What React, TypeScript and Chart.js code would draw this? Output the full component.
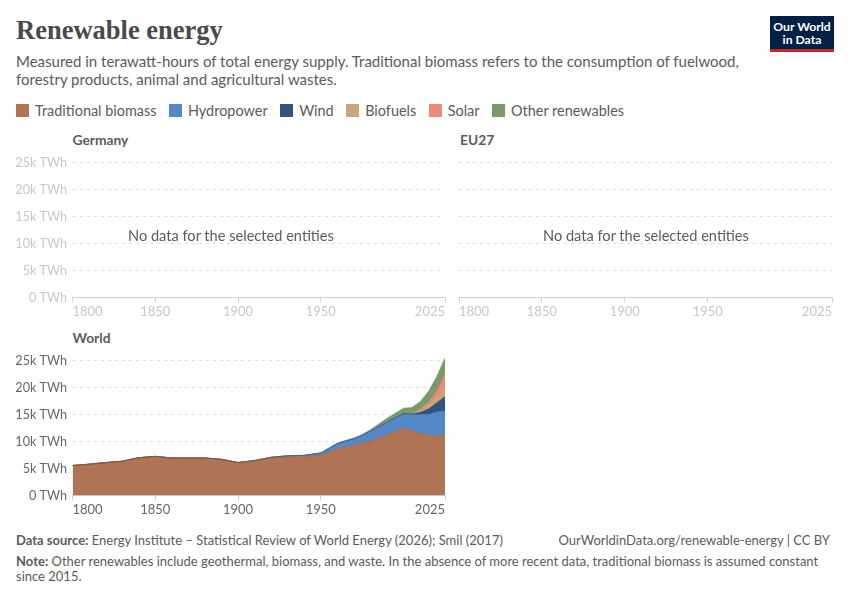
import React, { useEffect, useRef } from 'react';
import Chart from 'chart.js/auto';

// === Data ===
const YEARS = [1800, 1810, 1820, 1830, 1840, 1850, 1860, 1870, 1880, 1890, 1900, 1910, 1920, 1930, 1940, 1950, 1955, 1960, 1965, 1970, 1975, 1980, 1985, 1990, 1995, 2000, 2005, 2010, 2015, 2020, 2025];
const TRADITIONAL = [5556, 5800, 6100, 6350, 7000, 7250, 6950, 6950, 6950, 6700, 6100, 6450, 7000, 7200, 7200, 7530, 8050, 8700, 9000, 9350, 9750, 10080, 10600, 11300, 11900, 12470, 12000, 11600, 11100, 11100, 11100];
const HYDRO = [0, 0, 0, 0, 0, 0, 0, 0, 0, 0, 10, 30, 80, 150, 220, 330, 700, 900, 1080, 1150, 1370, 1850, 2150, 2300, 2470, 2640, 3000, 3400, 3900, 4350, 4550];
const WIND = [0, 0, 0, 0, 0, 0, 0, 0, 0, 0, 0, 0, 0, 0, 0, 0, 0, 0, 0, 0, 0, 0, 2, 8, 15, 30, 100, 350, 1000, 1700, 2650];
const BIOFUELS = [0, 0, 0, 0, 0, 0, 0, 0, 0, 0, 0, 0, 0, 0, 0, 0, 0, 0, 0, 0, 0, 10, 20, 30, 30, 30, 100, 600, 900, 1100, 1500];
const SOLAR = [0, 0, 0, 0, 0, 0, 0, 0, 0, 0, 0, 0, 0, 0, 0, 0, 0, 0, 0, 0, 0, 0, 0, 0, 1, 2, 5, 30, 350, 1000, 2650];
const OTHER = [0, 0, 0, 0, 0, 0, 0, 0, 0, 0, 0, 0, 10, 20, 30, 50, 50, 100, 120, 150, 180, 250, 450, 650, 800, 1000, 1100, 1400, 2000, 2750, 3050];

const X_TICKS = [1800, 1850, 1900, 1950, 2025];
const Y_TICKS = [0, 5000, 10000, 15000, 20000, 25000];
const Y_MAX = 25400;

const SERIES = [
  { label: 'Traditional biomass', values: TRADITIONAL, rgb: '154,81,41' },
  { label: 'Hydropower', values: HYDRO, rgb: '40,107,187' },
  { label: 'Wind', values: WIND, rgb: '0,41,91' },
  { label: 'Biofuels', values: BIOFUELS, rgb: '188,142,90' },
  { label: 'Solar', values: SOLAR, rgb: '229,110,90' },
  { label: 'Other renewables', values: OTHER, rgb: '87,129,69' },
];

const FONT = 'Lato, sans-serif';

// === Small panel with its own chart ===
interface PanelProps {
  left: number;
  top: number;
  width: number;
  axisWidth: number;
  showYLabels: boolean;
  hasData: boolean;
}

const Panel: React.FC<PanelProps> = ({ left, top, width, axisWidth, showYLabels, hasData }) => {
  const canvasRef = useRef<HTMLCanvasElement>(null);

  useEffect(() => {
    if (!canvasRef.current) return;
    const labelColor = hasData ? '#666666' : '#c8c8c8';
    const chart = new Chart(canvasRef.current, {
      type: 'line',
      data: {
        datasets: hasData
          ? SERIES.map((s, i) => ({
              label: s.label,
              data: YEARS.map((year, j) => ({ x: year, y: s.values[j] })),
              backgroundColor: `rgba(${s.rgb},0.8)`,
              borderColor: `rgb(${s.rgb})`,
              borderWidth: 0.5,
              pointRadius: 0,
              tension: 0,
              fill: i === 0 ? 'origin' : '-1',
            }))
          : [],
      },
      options: {
        responsive: false,
        animation: false,
        layout: { padding: { top: 10.34, right: 5, left: 0, bottom: 0 } },
        plugins: { legend: { display: false }, tooltip: { enabled: false } },
        scales: {
          x: {
            type: 'linear',
            min: 1800,
            max: 2025,
            afterBuildTicks: (scale: any) => {
              scale.ticks = X_TICKS.map((value) => ({ value }));
            },
            afterFit: (scale: any) => {
              scale.height = 30.5;
              scale.paddingLeft = 0;
              scale.paddingRight = 0;
            },
            grid: { drawOnChartArea: false, drawTicks: true, tickLength: 5, color: '#d0d0d0' },
            border: { display: true, color: '#d0d0d0' },
            ticks: {
              align: 'inner',
              autoSkip: false,
              maxRotation: 0,
              padding: 2,
              color: labelColor,
              font: { family: FONT, size: 13 },
              callback: (v: any) => String(v),
            },
          },
          y: {
            stacked: true,
            min: 0,
            max: Y_MAX,
            afterBuildTicks: (scale: any) => {
              scale.ticks = Y_TICKS.map((value) => ({ value }));
            },
            afterFit: (scale: any) => {
              scale.width = axisWidth;
              scale.paddingTop = 0;
              scale.paddingBottom = 0;
            },
            grid: { drawTicks: false, color: '#dddddd' },
            border: { display: false, dash: [3, 4] },
            ticks: {
              display: showYLabels,
              autoSkip: false,
              padding: 5.5,
              color: labelColor,
              font: { family: FONT, size: 12.6 },
              callback: (v: any) => (v === 0 ? '0 TWh' : `${Number(v) / 1000}k TWh`),
            },
          },
        },
      },
    } as any);
    return () => chart.destroy();
  }, [axisWidth, showYLabels, hasData]);

  return <canvas ref={canvasRef} width={width} height={178} style={{ position: 'absolute', left, top, width, height: 178 }} />;
};

// === Absolutely placed text ===
const Text: React.FC<{ x?: number; right?: number; y: number; size: number; color: string; bold?: boolean; children: React.ReactNode }> = ({ x, right, y, size, color, bold, children }) => (
  <div
    style={{
      position: 'absolute',
      left: x,
      right,
      top: y,
      fontSize: size,
      color,
      fontWeight: bold ? 700 : 400,
      lineHeight: 1,
      whiteSpace: 'nowrap',
    }}
  >
    {children}
  </div>
);

const App: React.FC = () => (
  <div style={{ position: 'absolute', left: 0, top: 0, width: 850, height: 600, background: '#fff', fontFamily: FONT, overflow: 'hidden' }}>
    <div style={{ position: 'absolute', left: 16, top: 16, fontFamily: '"Liberation Serif", serif', fontWeight: 700, fontSize: 26.5, lineHeight: 1.1, color: '#4a4a4a', whiteSpace: 'nowrap' }}>
      Renewable energy
    </div>

    <div style={{ position: 'absolute', left: 770, top: 16, width: 64, height: 36, background: '#002147', borderBottom: '3px solid #ce261e', boxSizing: 'border-box', color: '#fff', fontWeight: 700, fontSize: 12.2, lineHeight: '12.5px', textAlign: 'center', paddingTop: 5 }}>
      Our World
      <br />
      in Data
    </div>

    <Text x={16} y={54} size={15} color="#5b5b5b">Measured in terawatt-hours of total energy supply. Traditional biomass refers to the consumption of fuelwood,</Text>
    <Text x={16} y={72} size={15} color="#5b5b5b">forestry products, animal and agricultural wastes.</Text>

    <div style={{ position: 'absolute', left: 16, top: 102, display: 'flex', gap: 12.5, fontSize: 14.45, lineHeight: '17px', color: '#5b5b5b', whiteSpace: 'nowrap' }}>
      {SERIES.map((s) => (
        <div key={s.label} style={{ display: 'flex', alignItems: 'center', gap: 6 }}>
          <span style={{ display: 'inline-block', width: 13, height: 13, background: `rgba(${s.rgb},0.8)` }} />
          {s.label}
        </div>
      ))}
    </div>

    <Text x={72.5} y={132.5} size={13.8} color="#5b5b5b" bold>Germany</Text>
    <Text x={460} y={132.5} size={13.8} color="#5b5b5b" bold>EU27</Text>
    <Text x={72.5} y={330.5} size={13.8} color="#5b5b5b" bold>World</Text>

    <Panel left={0} top={150} width={450} axisWidth={72.5} showYLabels hasData={false} />
    <Panel left={454} top={150} width={383} axisWidth={5} showYLabels={false} hasData={false} />
    <Panel left={0} top={348} width={450} axisWidth={72.5} showYLabels hasData />

    <Text x={128} y={229} size={14.6} color="#5b5b5b">No data for the selected entities</Text>
    <Text x={543} y={229} size={14.6} color="#5b5b5b">No data for the selected entities</Text>

    <Text x={16} y={534} size={13} color="#5b5b5b"><b>Data source:</b> Energy Institute – Statistical Review of World Energy (2026); Smil (2017)</Text>
    <Text right={20} y={534} size={13} color="#5b5b5b">OurWorldinData.org/renewable-energy | CC BY</Text>
    <Text x={16} y={555} size={13} color="#5b5b5b"><b>Note:</b> Other renewables include geothermal, biomass, and waste. In the absence of more recent data, traditional biomass is assumed constant</Text>
    <Text x={16} y={570} size={13} color="#5b5b5b">since 2015.</Text>
  </div>
);

export default App;
